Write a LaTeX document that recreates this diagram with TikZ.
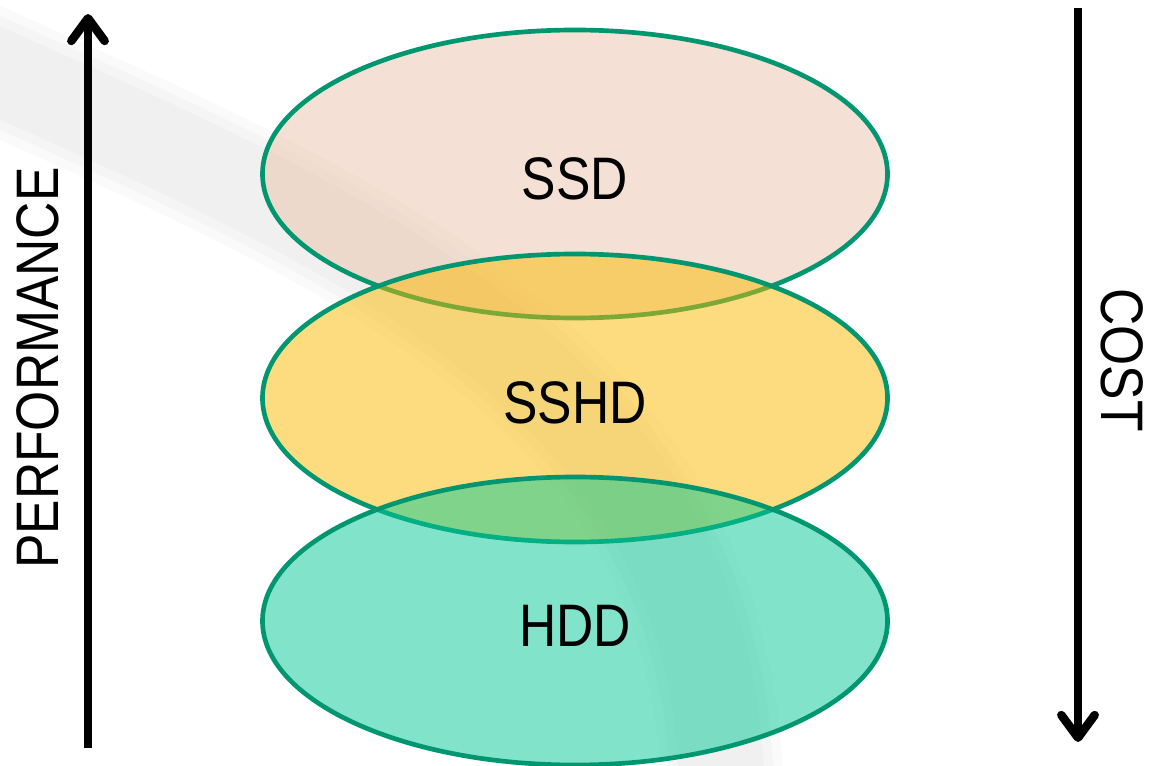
\documentclass[tikz,border=0pt]{standalone}
\usepackage{fontspec}
\setmainfont{Liberation Sans}[FakeStretch=0.86]
\usetikzlibrary{shapes.geometric,arrows.meta}

\definecolor{rim}{RGB}{0,150,112}
\definecolor{ssdfill}{RGB}{235,195,170}
\definecolor{sshdfill}{RGB}{251,187,0}
\definecolor{hddfill}{RGB}{5,203,151}

\tikzset{
  tier/.style={ellipse, draw=rim, line width=3.5pt, fill opacity=0.5,
    text opacity=1, minimum width=468.75pt, minimum height=216pt,
    inner sep=0pt, text height=38.4pt, font=\fontsize{45}{52}\selectfont},
  axislabel/.style={font=\fontsize{45}{52}\selectfont, inner sep=0pt},
  axisarrow/.style={line width=6.4pt,
    -{Straight Barb[length=17pt, width=25pt, round]}},
  swoosh/.style={draw=black, draw opacity=0.02, line cap=butt}
}

\begin{document}
\begin{tikzpicture}[x=0.75pt, y=-0.75pt]
  \useasboundingbox (0,0) rectangle (1149,766);
  \fill[white] (0,0) rectangle (1149,766);

  % faint background swoosh
  \foreach \w in {92pt,78pt,64pt}
    \draw[swoosh, line width=\w] (-40,55) .. controls (350,230) and (730,380) .. (722,820);

  % storage tiers
  \node[tier, fill=ssdfill]  (ssd)  at (575,174) {SSD};
  \node[tier, fill=sshdfill] (sshd) at (575,398) {SSHD};
  \node[tier, fill=hddfill]  (hdd)  at (575,621) {HDD};

  % performance axis
  \coordinate (pbot) at (88,748);
  \coordinate (ptop) at (88,14);
  \draw[axisarrow] (pbot) -- (ptop);
  \node[axislabel, rotate=90] (perf) at (38,368) {PERFORMANCE};

  % cost axis
  \coordinate (ctop) at (1078,8);
  \coordinate (cbot) at (1078,742);
  \draw[axisarrow] (ctop) -- (cbot);
  \node[axislabel, rotate=-90] (cost) at (1122,360) {COST};
\end{tikzpicture}
\end{document}
